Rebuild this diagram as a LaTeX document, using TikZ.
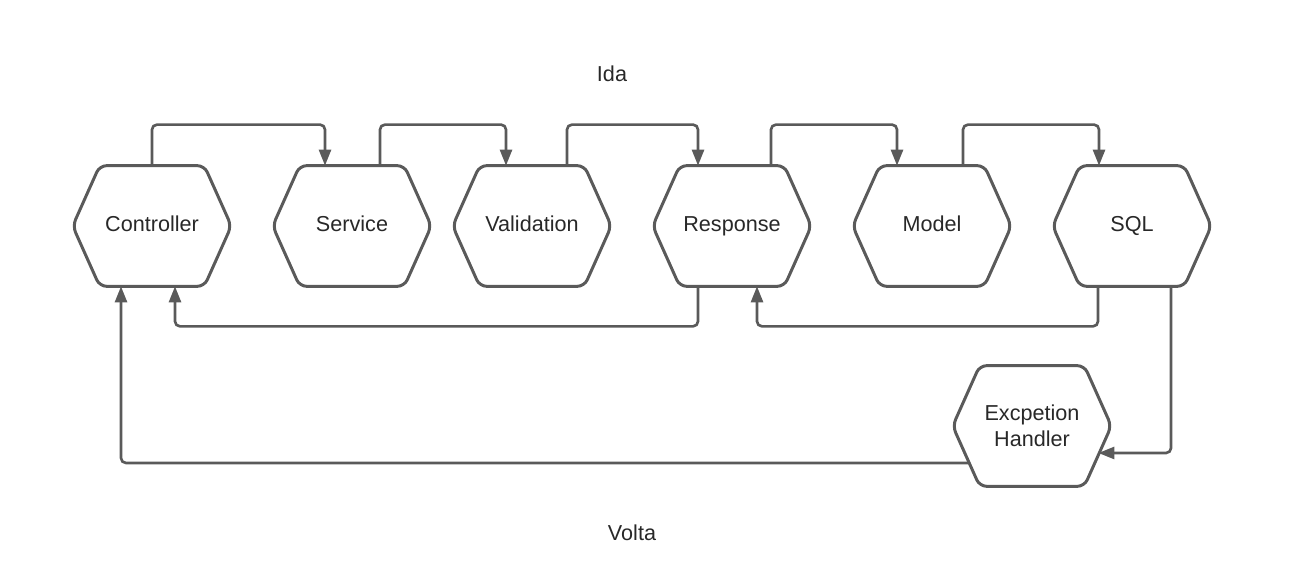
\documentclass[tikz,border=0pt]{standalone}
\usepackage{fontspec}
\setmainfont{Liberation Sans}
\usetikzlibrary{positioning,calc,arrows.meta}
\definecolor{linegray}{HTML}{5A5A5A}
\definecolor{textgray}{HTML}{282828}

\begin{document}
\begin{tikzpicture}[x=0.02cm,y=0.02cm,
    hexbox/.style={minimum width=3.16cm,minimum height=2.4cm,inner sep=0pt,align=center,
      text=textgray,font=\fontsize{12.3}{14.8}\selectfont},
    rowbox/.style={hexbox,text height=8.8pt,text depth=3.1pt},
    hexline/.style={draw=linegray,line width=1.7pt,rounded corners=4pt},
    flow/.style={draw=linegray,line width=1.5pt,rounded corners=2.8pt,
      -{Triangle[length=0.32cm,width=0.24cm]}},
    caption/.style={text=textgray,font=\fontsize{12.3}{14.8}\selectfont}
  ]
  \useasboundingbox (0,0) rectangle (1293,584);

  % the layers
  \foreach \x/\name/\txt in {152/ctrl/Controller,352/serv/Service,532/valid/Validation,
      732/resp/Response,932/model/Model,1132/sql/SQL}
    \node[rowbox] (\name) at (\x,358) {\txt};
  \node[hexbox] (exc) at (1032,158) {Excpetion\\Handler};

  % the hexagon outlines
  \foreach \name in {ctrl,serv,valid,resp,model,sql,exc}
    \draw[hexline] (\name.north) -- ($(\name.north east)+(-27,0)$) -- (\name.east)
      -- ($(\name.south east)+(-27,0)$) -- ($(\name.south west)+(27,0)$) -- (\name.west)
      -- ($(\name.north west)+(27,0)$) -- cycle;

  % the way in
  \draw[flow] (ctrl.north) -- ++(0,41) -| ($(serv.north)+(-27,0)$);
  \draw[flow] ($(serv.north)+(28,0)$) -- ++(0,41) -| ($(valid.north)+(-26,0)$);
  \draw[flow] ($(valid.north)+(35,0)$) -- ++(0,41) -| ($(resp.north)+(-34,0)$);
  \draw[flow] ($(resp.north)+(39,0)$) -- ++(0,41) -| ($(model.north)+(-35,0)$);
  \draw[flow] ($(model.north)+(31,0)$) -- ++(0,41) -| ($(sql.north)+(-33,0)$);

  % the way back
  \draw[flow] ($(resp.south)+(-34,0)$) -- ++(0,-40) -| ($(ctrl.south)+(23,0)$);
  \draw[flow] ($(sql.south)+(-34,0)$) -- ++(0,-40) -| ($(resp.south)+(25,0)$);

  % the exception path
  \coordinate (excin) at ($(exc.east)+(-13,-27)$);
  \coordinate (excout) at ($(exc.west)+(17,-37)$);
  \draw[flow] ($(sql.south)+(39,0)$) |- (excin);
  \draw[flow] (excout) -| ($(ctrl.south)+(-31,0)$);

  \node[caption] (ida) at (612,510) {Ida};
  \node[caption] (volta) at (632,51) {Volta};
\end{tikzpicture}
\end{document}
